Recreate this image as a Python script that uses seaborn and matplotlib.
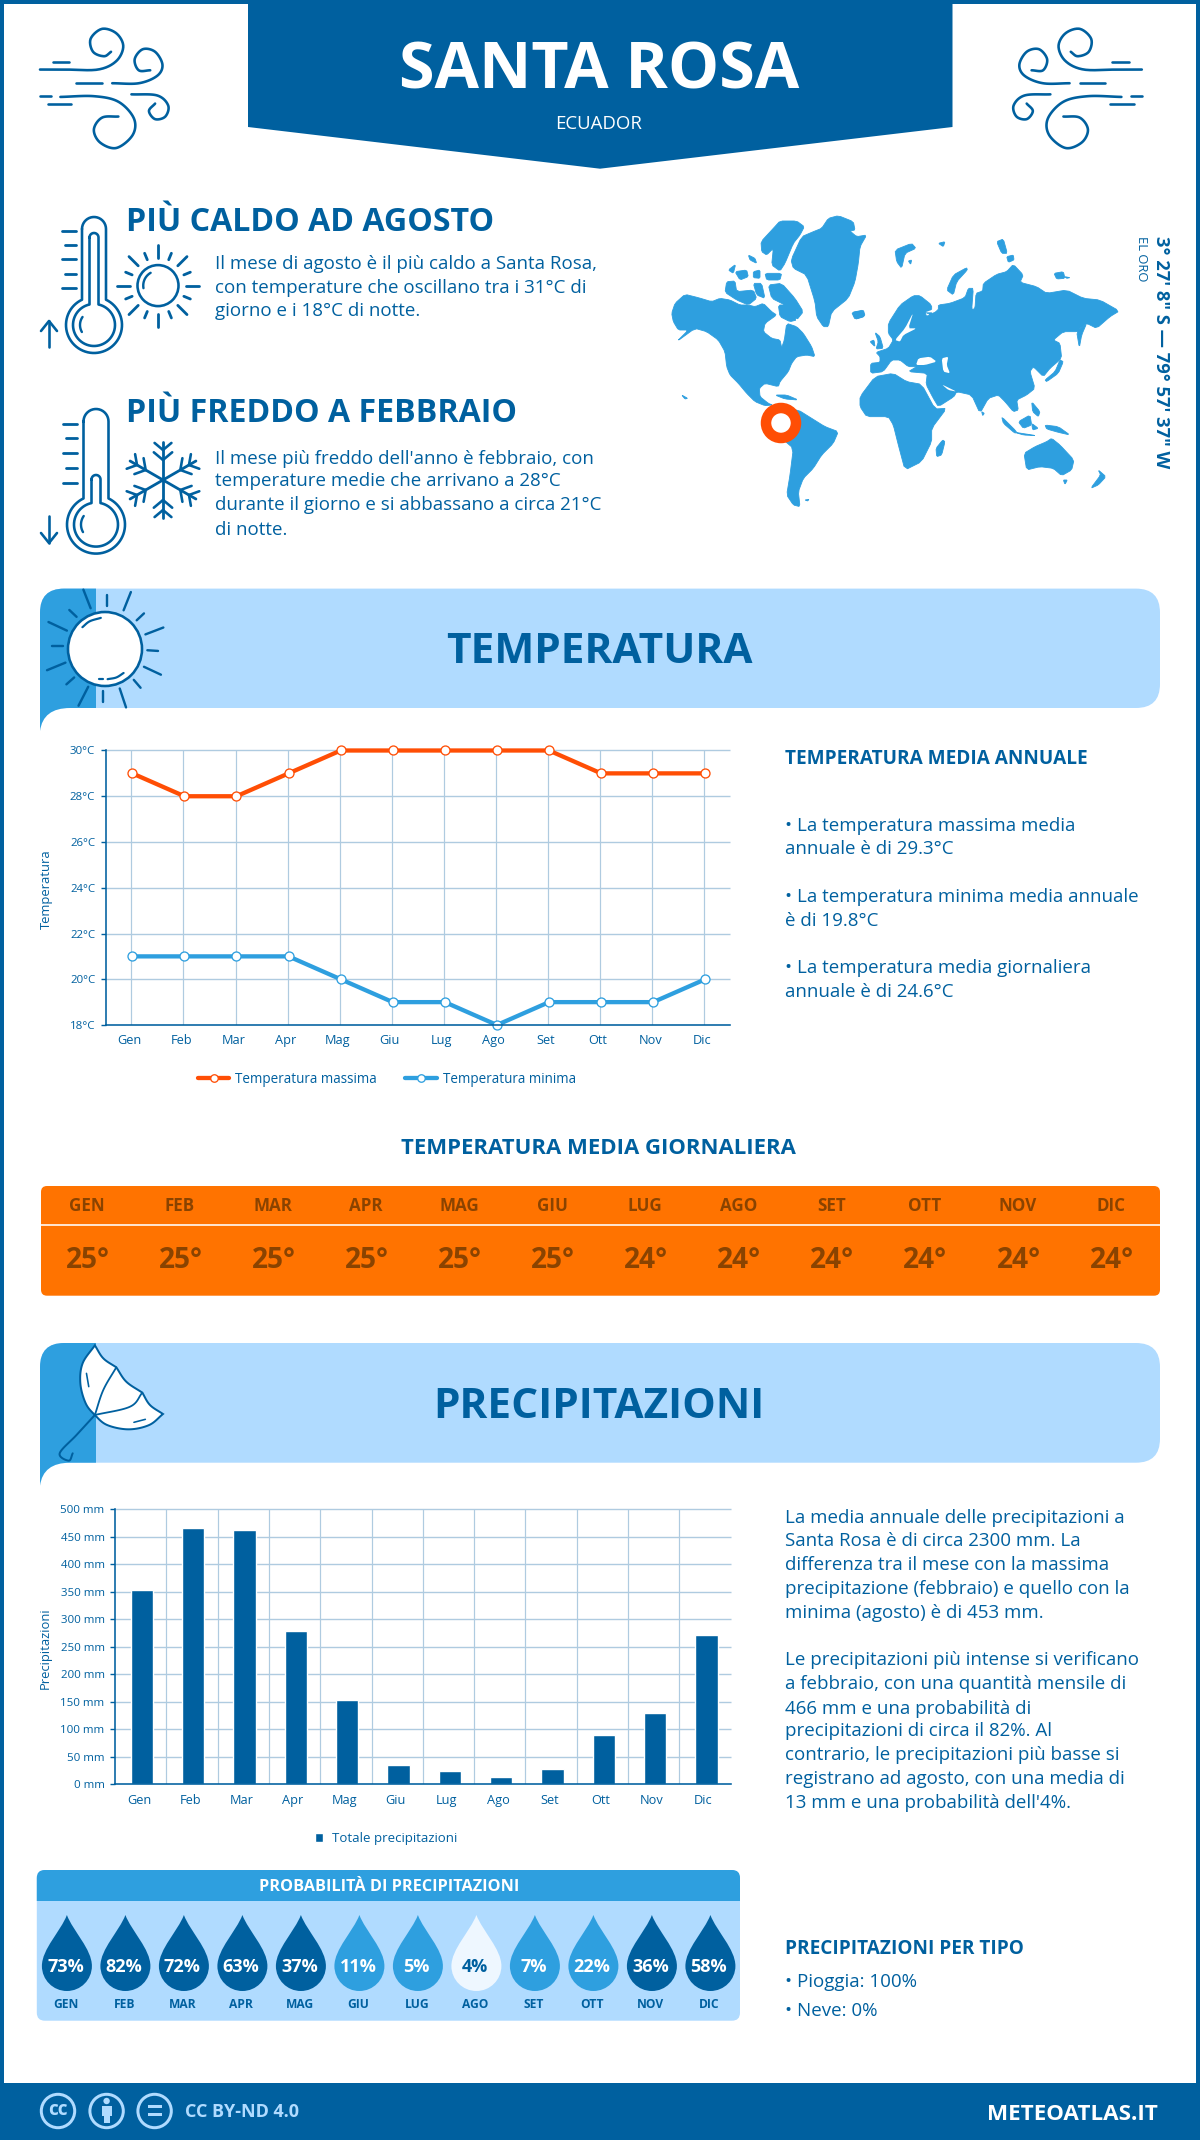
import numpy as np
import matplotlib
matplotlib.use("Agg")
import matplotlib.pyplot as plt
import seaborn as sns
from matplotlib.patches import Polygon, FancyBboxPatch, Circle, PathPatch, Rectangle
from matplotlib.path import Path
from matplotlib.transforms import ScaledTranslation

# ---------------- data ----------------
mesi = ["Gen","Feb","Mar","Apr","Mag","Giu","Lug","Ago","Set","Ott","Nov","Dic"]
mesi_up = ["GEN","FEB","MAR","APR","MAG","GIU","LUG","AGO","SET","OTT","NOV","DIC"]
temp_max = [29,28,28,29,30,30,30,30,30,29,29,29]
temp_min = [21,21,21,21,20,19,19,18,19,19,19,20]
temp_media = [25,25,25,25,25,25,24,24,24,24,24,24]
precip = [353,466,462,279,153,35,24,13,28,90,130,271]
prob = [73,82,72,63,37,11,5,4,7,22,36,58]

DARK="#00609F"; MID="#2E9FDF"; LIGHT="#B0DBFF"; ORANGE="#FF7300"; RED="#FF4E05"
GRID="#AFCBE0"; BROWN="#8A4300"; PALE="#EEF7FF"

sns.set_style("white")
plt.rcParams['font.family'] = ['Open Sans', 'DejaVu Sans']

fig = plt.figure(figsize=(12, 21.4), dpi=100, facecolor="white")
bg = fig.add_axes([0, 0, 1, 1], zorder=0)
bg.set_xlim(0, 1200); bg.set_ylim(2140, 0); bg.axis("off")

def pt(px): return px*0.72
def T(x, y, s, px, weight="normal", color=DARK, ha="left", va="baseline", **k):
    return bg.text(x, y, s, fontsize=pt(px), fontweight=weight, color=color, ha=ha, va=va, **k)
def L(pts, lw=2.6, color=DARK, z=3, **k):
    pts = np.asarray(pts, float)
    bg.plot(pts[:,0], pts[:,1], color=color, lw=pt(lw), solid_capstyle="round", solid_joinstyle="round", zorder=z, **k)
def spline(pts, n=14):
    p = np.asarray(pts, float)
    p = np.vstack([2*p[0]-p[1], p, 2*p[-1]-p[-2]])
    out = []
    for i in range(1, len(p)-2):
        for t in np.linspace(0, 1, n, endpoint=False):
            a,b,c,d = p[i-1],p[i],p[i+1],p[i+2]
            out.append(0.5*((2*b)+(-a+c)*t+(2*a-5*b+4*c-d)*t**2+(-a+3*b-3*c+d)*t**3))
    out.append(p[-2])
    return np.array(out)
def chaikin(p, it=1):
    p = np.asarray(p, float)
    for _ in range(it):
        q = np.roll(p, -1, axis=0)
        p = np.vstack([np.c_[0.85*p+0.15*q], np.c_[0.15*p+0.85*q]])[np.argsort(np.r_[np.arange(len(p))*2, np.arange(len(p))*2+1])]
    return p

# ---------------- frame and header ----------------
bg.add_patch(Rectangle((0,0),1200,4,color=DARK,lw=0))
bg.add_patch(Rectangle((0,0),4,2140,color=DARK,lw=0))
bg.add_patch(Rectangle((1196,0),4,2140,color=DARK,lw=0))
bg.add_patch(Polygon([(248,0),(952.5,0),(952.5,127),(600,168.7),(248,127)],color=DARK,lw=0))
T(599.5,88.8,"SANTA ROSA",64.5,"bold","white",ha="center")
T(599,124,"ECUADOR",18.6,"normal","white",ha="center",va="center")
bg.add_patch(Rectangle((0,2082.7),1200,58,color=DARK,lw=0))

# wind icons
wfx, wfy = 2.45, 2.703
wind = [
 [(98,188),(160,188),(240,188),(285,165),(302,125),(285,90),(250,78),(222,105),(228,140),(255,152),(272,140)],
 [(275,225),(340,225),(385,205),(398,175),(380,140),(350,133),(330,160),(340,190),(368,190)],
 [(148,262),(230,260),(290,275),(328,320),(325,365),(285,400),(245,385),(230,350),(250,318),(290,315)],
 [(322,255),(385,258),(412,285),(405,315),(380,322),(365,300),(380,280)],
 [(130,167),(170,167)],[(187,225),(250,225)],[(98,260),(125,260)],[(118,282),(175,282)],
]
for c in wind:
    s = spline(c) if len(c) > 2 else np.array(c, float)
    x, y = s[:,0]/wfx, s[:,1]/wfy
    L(np.c_[x,y]); L(np.c_[1181.8-x,y])

# ---------------- world map ----------------
W = [
 [(20,325),(30,295),(60,268),(100,278),(140,290),(165,280),(195,285),(225,300),(250,300),(270,305),(295,295),(320,320),(335,330),(300,355),(295,380),(320,400),(345,405),(350,428),(358,405),(365,355),(395,365),(415,385),(440,425),(450,455),(425,450),(395,455),(380,475),(370,500),(345,530),(340,545),(300,535),(283,550),(285,575),(310,595),(322,600),(300,602),(270,590),(245,565),(220,535),(195,510),(185,485),(180,440),(160,405),(125,380),(90,370),(35,410),(70,375),(40,375),(25,350)],
 [(310,240),(350,235),(390,280),(415,320),(395,345),(360,300),(320,280)],
 [(340,300),(370,300),(395,345),(375,350),(345,335)],
 [(185,230),(210,228),(215,260),(265,255),(275,280),(250,300),(215,285),(180,262)],
 [(190,195),(212,178),(205,205)],[(210,200),(245,195),(250,215),(225,225)],
 [(265,200),(285,195),(285,220),(265,218)],[(250,150),(270,160),(275,175),(255,165)],
 [(300,205),(350,205),(345,225),(305,225)],[(265,235),(290,235),(300,280),(275,270)],
 [(288,110),(325,70),(345,48),(395,48),(418,65),(405,90),(385,115),(360,175),(345,198),(320,180),(325,130),(305,150),(290,140)],
 [(378,165),(410,95),(445,80),(470,70),(490,40),(520,32),(565,50),(570,75),(555,78),(575,95),(605,90),(585,125),(580,175),(570,230),(550,280),(500,320),(490,365),(475,365),(455,335),(450,290),(425,210),(385,190)],
 [(560,322),(595,318),(598,335),(570,343)],
 [(322,600),(345,612),(400,615),(440,640),(480,665),(520,680),(505,715),(470,750),(445,790),(415,820),(400,860),(405,905),(385,900),(365,870),(375,810),(385,730),(350,700),(320,640)],
 [(330,570),(365,570),(400,585),(360,582)],[(420,885),(432,883),(428,888)],[(50,570),(68,580),(60,582)],
]
E = [
 [(62,415),(90,412),(90,395),(78,382),(115,370),(130,345),(115,325),(115,295),(150,240),(190,212),(210,212),(245,240),(245,270),(225,262),(230,275),(265,255),(265,240),(300,235),(345,218),(355,190),(370,190),(365,255),(375,250),(378,205),(398,198),(400,175),(440,148),(470,140),(490,118),(520,150),(510,172),(560,185),(590,205),(650,195),(700,220),(750,225),(808,258),(780,275),(740,310),(710,295),(690,310),(685,320),(640,320),(610,345),(630,355),(635,400),(600,430),(580,455),(550,425),(540,440),(555,490),(530,510),(500,525),(505,555),(490,560),(465,530),(445,510),(415,520),(390,565),(365,510),(320,500),(312,515),(265,545),(250,520),(228,478),(232,445),(175,440),(200,425),(175,425),(150,405),(125,405),(100,440),(62,445)],
 [(30,515),(75,455),(130,445),(170,470),(215,478),(255,552),(290,550),(245,610),(245,650),(215,710),(165,735),(145,660),(130,600),(115,575),(50,575),(30,545)],
 [(75,322),(90,335),(100,370),(78,372),(85,350)],[(60,350),(72,345),(75,365)],
 [(135,75),(185,55),(198,70),(165,85),(155,130),(140,110)],[(175,108),(185,105),(182,118)],
 [(265,55),(285,50),(280,65)],[(290,195),(310,150),(350,128),(352,135),(320,170),(310,210)],
 [(440,50),(460,42),(472,85),(455,85)],[(470,95),(490,90),(492,105),(475,112)],
 [(612,145),(640,140),(645,160),(620,162)],[(645,155),(660,158),(650,160)],
 [(680,320),(710,295),(695,330),(688,368)],
 [(585,465),(615,440),(630,405),(640,410),(625,445),(590,470)],
 [(545,530),(570,560),(565,575),(548,560)],[(505,590),(540,570),(545,600),(520,610)],
 [(545,595),(565,610),(548,615)],[(455,575),(500,620),(495,625),(460,595)],
 [(495,622),(560,632),(520,630)],[(585,600),(625,605),(660,630),(625,622),(590,612)],
 [(522,685),(555,665),(590,650),(605,640),(630,660),(672,705),(665,735),(635,752),(610,730),(570,725),(530,735)],
 [(640,765),(652,765),(645,778)],[(722,790),(752,750),(745,735),(768,755),(745,780)],
 [(278,645),(285,650),(275,690),(260,695),(258,670)],[(395,560),(403,565),(398,572)],
 [(8,262),(40,255),(45,272),(18,282)],
]
HOLES = [
 [(198,420),(205,400),(240,395),(260,410),(225,420)],
 [(275,400),(295,395),(290,420),(300,445),(280,440)],
 [(135,345),(165,310),(190,262),(175,310),(200,310),(160,330),(150,350)],
 [(275,478),(320,500),(295,495)],
 [(100,440),(130,415),(175,445),(140,445)],
 [(225,262),(245,255),(265,240),(255,262)],
]
for poly in W:
    p = chaikin(poly)
    bg.add_patch(Polygon(np.c_[665+p[:,0]/3, 205+p[:,1]/3], fc=MID, ec=MID, lw=0.6, zorder=2))
for poly in E:
    p = chaikin(poly)
    bg.add_patch(Polygon(np.c_[850+p[:,0]/3, 225+p[:,1]/3], fc=MID, ec=MID, lw=0.6, zorder=2))
for poly in HOLES:
    p = chaikin(poly)
    bg.add_patch(Polygon(np.c_[850+p[:,0]/3, 225+p[:,1]/3], color="white", lw=0, zorder=2.2))
bg.add_patch(Circle((781,423),15,fc="white",ec=RED,lw=pt(10.5),zorder=3))
T(1161,236,"3° 27' 8\" S — 79° 57' 37\" W",18.4,"bold",rotation=270,ha="center",va="top")
T(1142,235.5,"EL ORO",13,"normal",rotation=270,ha="center",va="top")

# ---------------- hot/cold block ----------------
def thermo(cx, top, by, R, r, hw, hw2, top2):
    def outline(rad, w, t):
        a0 = np.arcsin(w/rad)
        arc_top = np.linspace(np.pi, 0, 20)
        xs = list(cx+w*np.cos(arc_top)); ys = list(t+w-w*np.sin(arc_top))
        b = np.linspace(-np.pi/2+a0, 3*np.pi/2-a0, 60)
        xs += list(cx+rad*np.cos(b)); ys += list(by+rad*np.sin(b))
        xs.append(xs[0]); ys.append(ys[0])
        return np.c_[xs, ys]
    L(outline(R, hw, top)); L(outline(r, hw2, top2))
def sunrays(cx, cy, r, r1, r2, r3):
    bg.add_patch(Circle((cx,cy),r,fc="white",ec=DARK,lw=pt(2.6),zorder=3))
    for i in range(16):
        a = i*np.pi/8
        re = r2 if i%2==0 else r3
        L([(cx+r1*np.cos(a),cy+r1*np.sin(a)),(cx+re*np.cos(a),cy+re*np.sin(a))],lw=2.8)
    a = np.linspace(np.radians(170),np.radians(240),12)
    L(np.c_[cx+0.72*r*np.cos(a),cy+0.72*r*np.sin(a)],lw=2.4)
thermo(94,217,325,28,21,12,4.5,233)
for y,x0 in zip([231,245,259,274,288],[62,65,62,65,62]):
    L([(x0,y),(75.5,y)],lw=2.8)
L([(49,347),(49,321)],lw=2.6); L([(41,331),(49,321),(57,331)],lw=2.6)
a = np.linspace(np.radians(150),np.radians(215),12)
L(np.c_[94+14*np.cos(a),325+14*np.sin(a)],lw=2.4)
sunrays(158,285.6,20.5,28,41,35)

thermo(96,409,524.6,29,22,12.5,4.5,475)
for y,x0 in zip([423.6,438,453,468,483],[63,66,63,66,63]):
    L([(x0,y),(77,y)],lw=2.8)
L([(49,516),(49,543)],lw=2.6); L([(41,533),(49,543),(57,533)],lw=2.6)
a = np.linspace(np.radians(150),np.radians(215),12)
L(np.c_[96+15*np.cos(a),524.6+15*np.sin(a)],lw=2.4)
fx,fy = 163,480
for i in range(6):
    a = np.pi/2+i*np.pi/3
    u = np.array([np.cos(a),np.sin(a)]); c = np.array([fx,fy])
    L([c,c+38*u],lw=2.8)
    for d in (20,30):
        for s in (-1,1):
            b = a+s*np.radians(50)
            v = np.array([np.cos(b),np.sin(b)])
            L([c+d*u,c+d*u+(11 if d==30 else 12)*v],lw=2.6)

T(126,231,"PIÙ CALDO AD AGOSTO",32.1,"bold")
T(126,421.8,"PIÙ FREDDO A FEBBRAIO",32.1,"bold")
BODY = 18.8
for y,s in zip([269,293,316],["Il mese di agosto è il più caldo a Santa Rosa,","con temperature che oscillano tra i 31°C di","giorno e i 18°C di notte."]):
    T(215,y,s,BODY)
for y,s in zip([463.5,486.5,510.5,534.6],["Il mese più freddo dell'anno è febbraio, con","temperature medie che arrivano a 28°C","durante il giorno e si abbassano a circa 21°C","di notte."]):
    T(215,y,s,BODY)

# ---------------- section banners ----------------
def banner(top, bottom, title, base):
    bg.add_patch(FancyBboxPatch((40,top),1120,bottom-top,boxstyle="round,pad=0,rounding_size=24",fc=LIGHT,ec="none",zorder=1))
    v = [(96,top),(64,top),(40,top),(40,top+24),(40,bottom+23),(43,bottom),(70,bottom),(96,bottom),(96,top)]
    c = [Path.MOVETO,Path.LINETO,Path.CURVE3,Path.CURVE3,Path.LINETO,Path.CURVE3,Path.CURVE3,Path.LINETO,Path.CLOSEPOLY]
    bg.add_patch(PathPatch(Path(v,c),fc=MID,ec="none",zorder=1.2))
    T(599,base,title,42.4,"bold",ha="center")
banner(588.6,708,"TEMPERATURA",662.6)
banner(1343,1462.7,"PRECIPITAZIONI",1418)

# sun in the temperature banner
def z3(a): return (a[0]/2.063, 580+a[1]/2.904)
bg.add_patch(Circle((105,649),37,fc="white",ec=DARK,lw=pt(2.6),zorder=3))
for a,b in [((172,28),(187,82)),((270,35),(255,88)),((337,138),(300,158)),((332,275),(297,252)),((260,370),(247,315)),((162,365),(182,310)),((97,262),(135,240)),((100,122),(138,147)),((221,45),(221,75)),((297,97),(282,117)),((326,206),(304,204)),((290,313),(276,290)),((212,353),(212,322)),((137,303),(153,283)),((107,193),(130,193)),((143,87),(158,107))]:
    L([z3(a),z3(b)],lw=2.4)
L(spline([z3(q) for q in [(170,137),(185,120),(208,110)]]),lw=2.2,z=4)
L(spline([z3(q) for q in [(222,288),(240,283),(255,270)]]),lw=2.2,z=4)
L([z3((205,288)),z3((212,288))],lw=2.2,z=4)

# umbrella in the precipitation banner
def z4(a): return (a[0]/1.307, 1120+a[1]/3)
ump = spline([z4(q) for q in [(124,676),(108,730),(105,790),(112,850),(124,885),(140,915),(168,928),(195,915),(213,882)]])
edge = np.vstack([ump, spline([z4(q) for q in [(213,882),(196,855),(186,818)]]), spline([z4(q) for q in [(186,818),(165,785),(152,742)]]), spline([z4(q) for q in [(152,742),(135,715),(124,676)]])])
bg.add_patch(Polygon(edge,fc="white",ec=DARK,lw=pt(2),zorder=3))
L(spline([z4(q) for q in [(152,742),(135,810),(124,885)]]),lw=1.8,z=4)
L(spline([z4(q) for q in [(186,818),(170,860),(124,885)]]),lw=1.8,z=4)
L(spline([z4(q) for q in [(124,885),(100,945),(78,1000),(90,1022),(95,1000)]]),lw=2,z=4)
L([z4((113,760)),z4((116,800))],lw=1.6,z=4)
L([z4((175,907)),z4((190,898))],lw=1.6,z=4)

# ---------------- temperature chart ----------------
FX,FY = 1200.,2140.
def new_ax(x0,x1,ytop,ybot):
    a = fig.add_axes([x0/FX,1-ybot/FY,(x1-x0)/FX,(ybot-ytop)/FY],zorder=5)
    a.patch.set_alpha(0)
    return a
ax1 = new_ax(105.7,730.5,750.5,1025)
idx = np.arange(12)
sns.lineplot(x=idx,y=temp_max,ax=ax1,color=RED,lw=pt(4.3),marker="o",ms=pt(9),mfc="white",mec=RED,mew=pt(1.3),label="Temperatura massima",clip_on=False,zorder=4)
sns.lineplot(x=idx,y=temp_min,ax=ax1,color=MID,lw=pt(4.3),marker="o",ms=pt(9),mfc="white",mec=MID,mew=pt(1.3),label="Temperatura minima",clip_on=False,zorder=4)
ax1.set_xlim(-0.511,11.484); ax1.set_ylim(18,30)
ax1.set_yticks(range(18,31,2)); ax1.set_yticklabels([f"{v}°C" for v in range(18,31,2)])
ax1.set_xticks(idx); ax1.set_xticklabels(mesi)
ax1.hlines(range(20,31,2),*ax1.get_xlim(),color=GRID,lw=pt(1.4),zorder=1,clip_on=False)
ax1.vlines(idx-0.018,18,30,color=GRID,lw=pt(1.2),zorder=1)
ax1.set_ylabel("Temperatura",fontsize=pt(13),color=DARK,labelpad=0)
ax1.yaxis.set_label_coords((53-105.7)/624.8,(1025-889)/274.5)

ax2 = new_ax(115,730.5,1509.3,1784.3)
sns.barplot(x=mesi,y=precip,ax=ax2,color=DARK,saturation=1,width=0.435,label="Totale precipitazioni",zorder=3)
ax2.set_xlim(-0.526,11.47); ax2.set_ylim(0,500)
ax2.set_yticks(range(0,501,50)); ax2.set_yticklabels([f"{v} mm" for v in range(0,501,50)])
ax2.hlines(range(50,501,50),*ax2.get_xlim(),color=GRID,lw=pt(1.4),zorder=1,clip_on=False)
ax2.vlines(idx[:-1]+0.474,0,500,color=GRID,lw=pt(1.2),zorder=1)
ax2.set_xlabel(""); ax2.set_ylabel("Precipitazioni",fontsize=pt(13),color=DARK,labelpad=0)
ax2.yaxis.set_label_coords((52-115)/615.5,(1784.3-1648)/275)

for a,dx,xpad,ypad in ((ax1,-3,9,5.5),(ax2,-3,9.5,5.5)):
    sns.despine(ax=a)
    for s in ("left","bottom"):
        a.spines[s].set_color(DARK); a.spines[s].set_linewidth(pt(1.6)); a.spines[s].set_zorder(6)
    a.tick_params(axis="y",length=pt(5),width=pt(1.4),color=DARK,labelsize=pt(11.5),labelcolor=DARK,pad=pt(ypad),left=True)
    a.tick_params(axis="x",length=0,labelsize=pt(12.8),labelcolor=DARK,pad=pt(xpad))
    for lab in a.get_xticklabels():
        lab.set_transform(lab.get_transform()+ScaledTranslation(dx/100,0,fig.dpi_scale_trans))

leg = ax1.legend(loc="center",bbox_to_anchor=(387/FX,1-1079.6/FY),bbox_transform=fig.transFigure,ncol=2,frameon=False,fontsize=pt(13.5),handlelength=2.3,handletextpad=0.45,columnspacing=2.1,labelcolor=DARK)
for h in leg.get_lines():
    h.set_markersize(pt(7.5)); h.set_linewidth(pt(4.3))
leg2 = ax2.legend(loc="center",bbox_to_anchor=(386/FX,1-1838.7/FY),bbox_transform=fig.transFigure,frameon=False,fontsize=pt(13.2),handlelength=0.62,handleheight=0.62,handletextpad=0.7,labelcolor=DARK)

# side text temperature
T(785.3,764,"TEMPERATURA MEDIA ANNUALE",19.05,"bold")
for y,s in zip([830.7,854,901.7,926,973.3,996.7],["• La temperatura massima media","annuale è di 29.3°C","• La temperatura minima media annuale","è di 19.8°C","• La temperatura media giornaliera","annuale è di 24.6°C"]):
    T(785.3,y,s,BODY)

# ---------------- daily mean strip ----------------
T(598,1154,"TEMPERATURA MEDIA GIORNALIERA",22.2,"bold",ha="center")
bg.add_patch(FancyBboxPatch((41,1186),1119,109.7,boxstyle="round,pad=0,rounding_size=6",fc=ORANGE,ec="none",zorder=1))
bg.plot([41,1160],[1225,1225],color="white",lw=pt(1.6),zorder=2)
for i,(m,v) in enumerate(zip(mesi_up,temp_media)):
    xc = 86.5+93.1*i
    T(xc,1205.7,m,17,"bold",BROWN,ha="center",va="center")
    T(xc+1,1261,f"{v}°",28,"bold",BROWN,ha="center",va="center")

# ---------------- precipitation text ----------------
ptxt = [(1523,"La media annuale delle precipitazioni a"),(1546.5,"Santa Rosa è di circa 2300 mm. La"),(1570.5,"differenza tra il mese con la massima"),(1594.5,"precipitazione (febbraio) e quello con la"),(1618,"minima (agosto) è di 453 mm."),
        (1665,"Le precipitazioni più intense si verificano"),(1689,"a febbraio, con una quantità mensile di"),(1713.6,"466 mm e una probabilità di"),(1736,"precipitazioni di circa il 82%. Al"),(1760,"contrario, le precipitazioni più basse si"),(1784,"registrano ad agosto, con una media di"),(1808,"13 mm e una probabilità dell'4%.")]
for y,s in ptxt:
    T(785.3,y,s,BODY)
T(785.3,1953.5,"PRECIPITAZIONI PER TIPO",19,"bold")
T(785.3,1987,"• Pioggia: 100%",BODY)
T(785.3,2015.8,"• Neve: 0%",BODY)

# ---------------- rain probability ----------------
bg.add_patch(FancyBboxPatch((36.8,1870),703.2,150.7,boxstyle="round,pad=0,rounding_size=8",fc=LIGHT,ec="none",zorder=1))
hv = [(36.8,1901),(36.8,1878),(36.8,1870),(44.8,1870),(732,1870),(740,1870),(740,1878),(740,1901),(36.8,1901)]
hc = [Path.MOVETO,Path.LINETO,Path.CURVE3,Path.CURVE3,Path.LINETO,Path.CURVE3,Path.CURVE3,Path.LINETO,Path.CLOSEPOLY]
bg.add_patch(PathPatch(Path(hv,hc),fc=MID,ec="none",zorder=1.2))
T(389,1887,"PROBABILITÀ DI PRECIPITAZIONI",16.2,"bold","white",ha="center",va="center")
for i,(m,p) in enumerate(zip(mesi_up,prob)):
    xc = 66.9+58.5*i
    col = DARK if p>=30 else (MID if p>4 else PALE)
    v = np.array([(0,-76),(6,-60),(25,-42),(25,-25),(25,-11.2),(13.8,0),(0,0),(-13.8,0),(-25,-11.2),(-25,-25),(-25,-42),(-6,-60),(0,-76)],float)+[xc,1991]
    c = [Path.MOVETO]+[Path.CURVE4]*12
    bg.add_patch(PathPatch(Path(v,c),fc=col,ec="none",zorder=2))
    T(xc-1.5,1966.7,f"{p}%",18,"bold","white" if col!=PALE else DARK,ha="center",va="center",zorder=3)
    T(xc-1,2004.7,m,12,"bold",DARK,ha="center",va="center")

# ---------------- footer ----------------
for cx in (58,106.6,154.6):
    bg.add_patch(Circle((cx,2111),16.7,fc="none",ec=LIGHT,lw=pt(3),zorder=3))
T(58,2110,"cc",19,"bold",LIGHT,ha="center",va="center",zorder=4)
bg.add_patch(Circle((106.6,2101),3.2,color=LIGHT,lw=0,zorder=4))
bg.add_patch(Rectangle((101.5,2105.5),10.2,10,color=LIGHT,lw=0,zorder=4))
bg.add_patch(Rectangle((103.5,2115),6.2,8,color=LIGHT,lw=0,zorder=4))
bg.add_patch(Rectangle((147.5,2105),14.5,3.4,color=LIGHT,lw=0,zorder=4))
bg.add_patch(Rectangle((147.5,2113),14.5,3.4,color=LIGHT,lw=0,zorder=4))
T(185,2117,"CC BY-ND 4.0",18,"bold",LIGHT)
T(1158,2119.7,"METEOATLAS.IT",22.4,"bold","white",ha="right")

fig.savefig("out.png",dpi=100,facecolor="white")
